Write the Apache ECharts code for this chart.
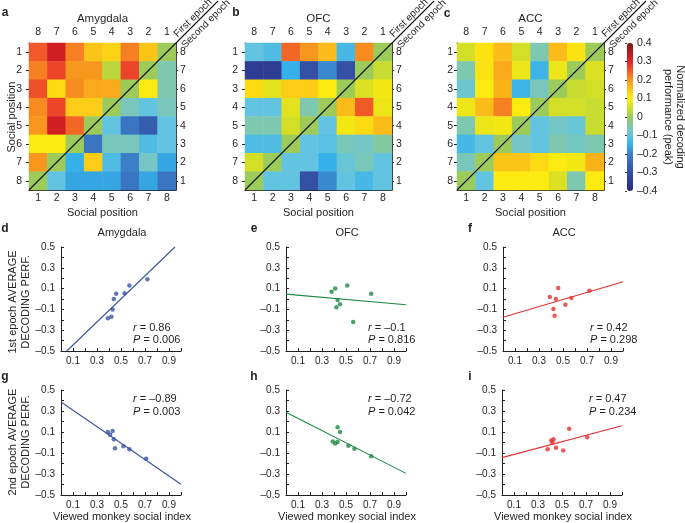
<!DOCTYPE html>
<html><head><meta charset="utf-8">
<script src="https://cdn.jsdelivr.net/npm/echarts@6/dist/echarts.min.js"></script>
<style>html,body{margin:0;padding:0;background:#fff}#c{width:685px;height:523px}</style>
</head><body><div id="c"></div>
<script>
// ---------- data ----------
const socialPos = ['1','2','3','4','5','6','7','8'];
const socialPosRev = ['8','7','6','5','4','3','2','1'];
const regionNames = ['Amygdala','OFC','ACC'];

// heatmap rows = social position 1..8 (top to bottom), columns = bottom labels 1..8
const amyHeat = [
 [0.25,0.32,0.22,0.15,0.13,0.22,0.15,0.00],
 [0.22,0.27,0.20,0.20,0.03,0.27,0.00,-0.05],
 [0.26,0.12,0.21,0.18,0.18,0.00,0.10,-0.05],
 [0.21,0.27,0.14,0.14,0.00,-0.06,-0.10,-0.06],
 [0.20,0.32,0.24,0.00,-0.10,-0.22,-0.27,-0.10],
 [0.10,0.10,0.00,-0.22,-0.06,-0.06,-0.12,-0.10],
 [0.20,0.00,-0.15,0.14,-0.12,-0.20,-0.07,-0.16],
 [0.00,-0.10,-0.16,-0.16,-0.16,-0.22,-0.16,-0.22]
];
const ofcHeat = [
 [-0.10,-0.12,0.24,0.20,0.16,-0.13,0.21,0.00],
 [-0.35,-0.35,-0.15,-0.30,-0.19,-0.30,0.00,0.04],
 [0.12,0.07,0.14,0.14,0.10,0.00,0.06,0.09],
 [-0.10,-0.10,0.07,-0.05,0.00,0.16,0.25,0.08],
 [-0.05,-0.05,0.05,0.00,-0.10,0.09,0.12,0.16],
 [-0.12,-0.12,0.00,-0.10,-0.11,-0.06,-0.07,-0.04],
 [0.05,0.00,-0.10,-0.10,-0.15,-0.09,-0.06,-0.10],
 [0.00,-0.10,-0.10,-0.30,-0.19,-0.10,-0.13,-0.10]
];
const accHeat = [
 [0.05,0.11,0.16,0.05,-0.05,0.16,0.11,0.00],
 [-0.05,0.11,0.18,0.08,-0.14,0.08,0.00,0.06],
 [-0.08,0.10,0.17,-0.14,-0.06,0.00,0.04,0.05],
 [0.08,0.16,0.22,0.10,0.00,0.05,0.05,0.04],
 [-0.05,0.08,0.09,0.00,-0.10,-0.07,-0.09,0.04],
 [-0.13,-0.10,0.00,-0.07,-0.10,-0.05,-0.07,-0.05],
 [-0.06,0.00,0.15,0.15,0.12,0.10,0.09,0.17],
 [0.00,-0.10,0.10,0.10,0.10,0.06,-0.05,0.10]
];

// scatter: viewed monkey social index vs average decoding performance
const amy1X = [0.39,0.42,0.43,0.44,0.46,0.53,0.57,0.72];
const amy1Y = [-0.185,-0.17,-0.10,0.00,0.05,0.055,0.13,0.19];
const ofc1X = [0.38,0.41,0.51,0.43,0.45,0.42,0.71,0.56];
const ofc1Y = [0.07,0.10,0.13,-0.01,-0.05,-0.08,0.05,-0.22];
const acc1X = [0.39,0.46,0.44,0.42,0.43,0.52,0.57,0.72];
const acc1Y = [0.02,0.105,0.00,-0.095,-0.16,-0.055,0.01,0.08];
const amy2X = [0.39,0.43,0.41,0.44,0.45,0.52,0.57,0.71];
const amy2Y = [0.10,0.11,0.075,0.03,-0.055,-0.035,-0.065,-0.155];
const ofc2X = [0.39,0.41,0.43,0.43,0.45,0.52,0.57,0.71];
const ofc2Y = [0.01,-0.01,0.005,0.145,0.10,-0.03,-0.06,-0.13];
const acc2X = [0.38,0.41,0.43,0.42,0.45,0.51,0.56,0.71];
const acc2Y = [-0.065,0.02,0.03,0.00,-0.05,-0.075,0.13,0.05];

// regression line end points [x, y]
const amy1Fit = [[0.048,-0.5],[0.95,0.5]];
const ofc1Fit = [[0,0.047],[1,-0.056]];
const acc1Fit = [[0,-0.175],[1,0.166]];
const amy2Fit = [[0,0.386],[1,-0.398]];
const ofc2Fit = [[0,0.287],[1,-0.294]];
const acc2Fit = [[0,-0.144],[1,0.16]];

const rVals = ['0.86','\u20130.1','0.42','\u20130.89','\u20130.72','0.47'];
const pVals = ['0.006','0.816','0.298','0.003','0.042','0.234'];

// ---------- style ----------
const FONT = '"Liberation Sans", Arial, Helvetica, sans-serif';
const TXT = '#231f20';
const AX = '#231f20';
const regionColors = ['#3b55a3','#1f8a43','#e53131'];
const heatColors = ['#2a2a7e','#2e3c92','#3350a3','#3765b5','#3a7fc8','#35b0e8','#62c4e0','#7ec8b0',
  '#9ccb5a','#d2df26','#fdea10','#fcc417','#f8971d','#f15a28','#e4222a','#b51a1e','#7f1416'];

const heatLeft = [29,245,457], heatTop = 43, heatSize = 147, heatLeftMargin = [7,7,4];
const scatLeft = [61,286,503], scatTop = [247,390], scatW = 120, scatH = [104,105];

const grids = [], xAxes = [], yAxes = [], series = [], graphics = [];

function txt(x, y, text, opt) {
  opt = opt || {};
  graphics.push({type:'text', x:x, y:y, rotation:opt.rotation || 0, z:100,
    style:{text:text, fill:TXT, fontSize:opt.size || 10.5, fontFamily:FONT, fontWeight:opt.weight || 'normal',
      align:opt.align || 'center', verticalAlign:'middle', lineHeight:opt.lh || 13, rich:opt.rich}});
}
function line(x1,y1,x2,y2,w) {
  graphics.push({type:'line', z:100, shape:{x1:x1,y1:y1,x2:x2,y2:y2}, style:{stroke:'#111', lineWidth:w || 1}});
}
const catLabel = (m) => ({margin:m, fontSize:10.5, color:TXT, fontFamily:FONT});

// ---------- heatmaps ----------
const heats = [amyHeat, ofcHeat, accHeat];
heats.forEach((mat, k) => {
  const gx = heatLeft[k];
  grids.push({left:gx, top:heatTop, width:heatSize, height:heatSize, outerBoundsMode:'none'});
  const lineS = {show:true, lineStyle:{color:AX, width:1}};
  xAxes.push({gridIndex:k, type:'category', data:socialPos, position:'bottom', axisLine:lineS,
    axisTick:{show:false}, axisLabel:catLabel(3), splitLine:{show:false}});
  xAxes.push({gridIndex:k, type:'category', data:socialPosRev, position:'top', axisLine:lineS,
    axisTick:{show:false}, axisLabel:catLabel(5), splitLine:{show:false}});
  yAxes.push({gridIndex:k, type:'category', data:socialPos, inverse:true, position:'left', axisLine:lineS,
    axisTick:{show:true, length:3, alignWithLabel:true, lineStyle:{color:AX}}, axisLabel:catLabel(heatLeftMargin[k]), splitLine:{show:false}});
  yAxes.push({gridIndex:k, type:'category', data:socialPosRev, inverse:true, position:'right', axisLine:lineS,
    axisTick:{show:true, length:2, alignWithLabel:true, lineStyle:{color:AX}}, axisLabel:catLabel(4), splitLine:{show:false}});
  const data = [];
  mat.forEach((row, r) => row.forEach((v, c) => data.push([c, r, v])));
  series.push({type:'heatmap', xAxisIndex:2*k, yAxisIndex:2*k, data:data, itemStyle:{borderWidth:0}, z:2});

  // decorations
  const cx = gx + heatSize, cy = heatTop;
  line(gx, heatTop + heatSize, cx + 42, cy - 42, 1.1);
  txt(cx + 17, cy - 25, 'First epoch', {rotation:Math.PI/4, size:10});
  txt(cx + 30, cy - 19, 'Second epoch', {rotation:Math.PI/4, size:10});
  txt(gx + heatSize/2, 19, regionNames[k], {size:11.5});
  txt(gx + heatSize/2, 213, 'Social position', {size:11});
});
txt(12, 117, 'Social position', {rotation:Math.PI/2, size:11});
txt(5, 13, 'a', {weight:'bold', size:12});
txt(236, 13, 'b', {weight:'bold', size:12});
txt(447, 14, 'c', {weight:'bold', size:12});

// ---------- scatter panels ----------
const oddFmt = (v) => {
  const n = Math.round(v * 10);
  if (Math.abs(n) % 2 !== 1) return '';
  return (n < 0 ? '\u2013' : '') + Math.abs(v).toFixed(1);
};
const scatX = [amy1X, ofc1X, acc1X, amy2X, ofc2X, acc2X];
const scatY = [amy1Y, ofc1Y, acc1Y, amy2Y, ofc2Y, acc2Y];
const fits = [amy1Fit, ofc1Fit, acc1Fit, amy2Fit, ofc2Fit, acc2Fit];
const letters = ['d','e','f','g','h','i'];
for (let p = 0; p < 6; p++) {
  const col = p % 3, row = Math.floor(p / 3);
  const gi = 3 + p, ai = 6 + p;
  const gx = scatLeft[col] - (row === 1 && col === 2 ? 1 : 0);
  const gy = scatTop[row], gh = scatH[row];
  grids.push({left:gx, top:gy, width:scatW, height:gh, outerBoundsMode:'none'});
  const lineS = {show:true, onZero:false, lineStyle:{color:AX, width:1}};
  const lab = (m) => ({margin:m, fontSize:10, color:TXT, fontFamily:FONT, formatter:oddFmt, showMinLabel:true, showMaxLabel:true});
  xAxes.push({gridIndex:gi, type:'value', min:0, max:1, interval:0.1, axisLine:lineS,
    axisTick:{show:true, inside:true, length:3, lineStyle:{color:AX}}, axisLabel:lab(5), splitLine:{show:false}});
  yAxes.push({gridIndex:gi, type:'value', min:-0.5, max:0.5, interval:0.1, axisLine:lineS,
    axisTick:{show:true, inside:true, length:3, lineStyle:{color:AX}}, axisLabel:lab(6), splitLine:{show:false}});
  const c = regionColors[col];
  series.push({type:'line', xAxisIndex:ai, yAxisIndex:ai, data:fits[p], symbol:'none', silent:true,
    lineStyle:{color:c, width:1.1}, z:2});
  series.push({type:'scatter', xAxisIndex:ai, yAxisIndex:ai, data:scatX[p].map((x, i) => [x, scatY[p][i]]),
    symbolSize:4.5, itemStyle:{color:c}, z:3});

  // annotations
  const tx = gx + [72, 82, 87][col];
  const ty = row === 0 ? [328, 340] : [399, 412];
  const rich = {i:{fontStyle:'italic', fontSize:11, fontFamily:FONT, fill:TXT}, n:{fontSize:11, fontFamily:FONT, fill:TXT}};
  txt(tx, ty[0], '{i|r}{n| = ' + rVals[p] + '}', {align:'left', size:11, rich:rich});
  txt(tx, ty[1], '{i|P}{n| = ' + pVals[p] + '}', {align:'left', size:11, rich:rich});
  const lx = [5, 254, 470][col];
  txt(lx, row === 0 ? 229 : 377, letters[p], {weight:'bold', size:12});
  if (row === 0) txt(gx + scatW/2 + 1, 233, regionNames[col], {size:11});
  else txt(gx + scatW/2 + 1, 517, 'Viewed monkey social index', {size:11});
}
txt(19, 302, '1st epoch AVERAGE\nDECODING PERF.', {rotation:Math.PI/2, size:11});
txt(19, 442, '2nd epoch AVERAGE\nDECODING PERF.', {rotation:Math.PI/2, size:11});

// ---------- colour bar axis ----------
grids.push({left:627, top:43, width:6, height:148, outerBoundsMode:'none'});
xAxes.push({gridIndex:9, type:'value', min:0, max:1, show:false});
yAxes.push({gridIndex:9, type:'value', min:-0.4, max:0.4, interval:0.1, position:'right',
  axisLine:{show:false}, axisTick:{show:true, inside:true, length:2, lineStyle:{color:'#333'}},
  splitLine:{show:false},
  axisLabel:{margin:4, fontSize:10.5, color:TXT, fontFamily:FONT,
    formatter:(v) => Math.abs(v) < 1e-9 ? '0' : (v < 0 ? '\u2013' : '') + Math.abs(v).toFixed(1)}});
series.push({type:'scatter', xAxisIndex:12, yAxisIndex:12, data:[]});
txt(674, 117, 'Normalized decoding\nperformance (peak)', {rotation:-Math.PI/2, size:11, lh:12});

const chart = echarts.init(document.getElementById('c'), null, {renderer:'canvas'});
chart.setOption({
  animation:false,
  backgroundColor:'#fff',
  textStyle:{fontFamily:FONT},
  grid:grids, xAxis:xAxes, yAxis:yAxes, series:series,
  visualMap:{type:'continuous', min:-0.4, max:0.4, seriesIndex:[0,1,2], left:627, top:43,
    itemWidth:6, itemHeight:148, padding:0, calculable:false, text:null, hoverLink:false,
    inRange:{color:heatColors}},
  graphic:graphics
});
</script></body></html>
